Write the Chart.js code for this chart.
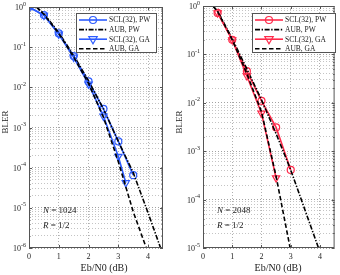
<!DOCTYPE html>
<html>
<head>
<meta charset="utf-8">
<script src="https://cdn.jsdelivr.net/npm/chart.js@4.4.1/dist/chart.umd.min.js"></script>
<style>
body { margin: 0; background: #fff; }
canvas { position: absolute; top: 0; }
#left { left: 0; }
#right { left: 170px; }
</style>
</head>
<body>
<canvas id="left" width="170" height="275"></canvas>
<canvas id="right" width="170" height="275"></canvas>
<script>
// x ticks (Eb/N0 in dB)
var xTicks = [0, 1, 2, 3, 4];

// N = 1024
var sclPwX1024 = [0, 0.5, 1, 1.5, 2, 2.5, 3, 3.5];
var sclPw1024 = [1.0, 0.63, 0.22, 0.06, 0.014, 2.9e-3, 4.5e-4, 6.5e-5];
var sclGaX1024 = [0, 0.5, 1, 1.5, 2, 2.5, 3, 3.25];
var sclGa1024 = [1.0, 0.62, 0.21, 0.056, 0.012, 1.9e-3, 1.9e-4, 4.2e-5];
var aubPwX1024 = [0.25, 0.5, 1, 1.5, 2, 2.5, 3, 3.5, 4, 4.42];
var aubPw1024 = [1.0, 0.68, 0.23, 0.062, 0.0145, 2.9e-3, 4.5e-4, 7.5e-5, 7.4e-6, 1e-6];
var aubGaX1024 = [0.25, 0.5, 1, 1.5, 2, 2.5, 3, 3.5, 3.94];
var aubGa1024 = [1.0, 0.66, 0.22, 0.057, 0.0125, 1.8e-3, 1.4e-4, 8e-6, 1e-6];

// N = 2048
var sclPwX2048 = [0.5, 1, 1.5, 2, 2.5, 3];
var sclPw2048 = [0.72, 0.2, 0.045, 0.011, 3.1e-3, 4.1e-4];
var sclGaX2048 = [0.5, 1, 1.5, 2, 2.5];
var sclGa2048 = [0.72, 0.2, 0.036, 6.1e-3, 2.8e-4];
var aubPwX2048 = [0.34, 0.5, 1, 1.5, 2, 2.5, 3, 3.5, 3.95];
var aubPw2048 = [1.0, 0.78, 0.21, 0.05, 0.0115, 2.3e-3, 4.1e-4, 5.8e-5, 1e-5];
var aubGaX2048 = [0.34, 0.5, 1, 1.5, 2, 2.5, 2.98];
var aubGa2048 = [1.0, 0.77, 0.2, 0.04, 6.5e-3, 3.0e-4, 1e-5];

var legendLabels = ['SCL(32), PW', 'AUB, PW', 'SCL(32), GA', 'AUB, GA'];

var serif = '"Liberation Serif", "Times New Roman", serif';

function pts(xs, ys) {
  return xs.map(function (x, i) { return { x: x, y: ys[i] }; });
}

function logTicks(minExp) {
  var t = [];
  for (var e = minExp; e < 0; e++) {
    for (var m = 1; m < 10; m++) t.push({ value: m * Math.pow(10, e) });
  }
  t.push({ value: 1 });
  return t;
}

function isMajor(v) {
  var l = Math.log10(v);
  return Math.abs(l - Math.round(l)) < 1e-6;
}

// frame, tick marks, labels, legend and text
var panelPlugin = {
  id: 'panel',
  afterDraw: function (chart, args, o) {
    var ctx = chart.ctx, a = chart.chartArea;
    var xs = chart.scales.x, ys = chart.scales.y;
    ctx.save();

    // box
    ctx.strokeStyle = '#555';
    ctx.lineWidth = 1;
    ctx.strokeRect(a.left + 0.5, a.top + 0.5, a.right - a.left - 1, a.bottom - a.top - 1);

    // tick marks
    ctx.beginPath();
    xTicks.forEach(function (v) {
      var px = Math.round(xs.getPixelForValue(v)) + 0.5;
      ctx.moveTo(px, a.bottom); ctx.lineTo(px, a.bottom - 3);
      ctx.moveTo(px, a.top); ctx.lineTo(px, a.top + 3);
    });
    ys.ticks.forEach(function (t) {
      var py = Math.round(ys.getPixelForValue(t.value)) + 0.5;
      var len = isMajor(t.value) ? 3 : 1.5;
      ctx.moveTo(a.left, py); ctx.lineTo(a.left + len, py);
      ctx.moveTo(a.right, py); ctx.lineTo(a.right - len, py);
    });
    ctx.stroke();

    ctx.fillStyle = '#222';
    // x tick labels
    ctx.font = '8px ' + serif;
    ctx.textAlign = 'center';
    ctx.textBaseline = 'middle';
    xTicks.forEach(function (v) {
      ctx.fillText(String(v), xs.getPixelForValue(v), 257);
    });

    // y tick labels 10^e
    ys.ticks.forEach(function (t) {
      if (!isMajor(t.value)) return;
      var e = Math.round(Math.log10(t.value));
      var py = ys.getPixelForValue(t.value);
      var right = a.left - 3;
      ctx.font = '6px ' + serif;
      ctx.textAlign = 'right';
      var ew = ctx.measureText(String(e)).width;
      ctx.fillText(String(e), right, py - 3);
      ctx.font = '8px ' + serif;
      ctx.fillText('10', right - ew, py + 1);
    });

    // axis titles
    ctx.font = '10px ' + serif;
    ctx.textAlign = 'center';
    ctx.fillText('Eb/N0 (dB)', o.xTitleX, 268);
    ctx.font = '9px ' + serif;
    ctx.save();
    ctx.translate(o.yTitleX, 122);
    ctx.rotate(-Math.PI / 2);
    ctx.fillText('BLER', 0, 0);
    ctx.restore();

    // N, R text
    ctx.textAlign = 'left';
    ctx.font = 'italic 9px ' + serif;
    ctx.fillText('N', o.noteX, 211);
    var nw = ctx.measureText('N').width;
    ctx.fillText('R', o.noteX, 225.5);
    var rw = ctx.measureText('R').width;
    ctx.font = '9px ' + serif;
    ctx.fillText(' = ' + o.n, o.noteX + nw, 211);
    ctx.fillText(' = 1/2', o.noteX + rw, 225.5);

    // legend
    var L = o.legendLeft, T = 13, W = o.legendW, H = 40;
    ctx.fillStyle = '#fff';
    ctx.fillRect(L, T, W, H);
    ctx.strokeStyle = '#555';
    ctx.lineWidth = 1;
    ctx.strokeRect(L + 0.5, T + 0.5, W - 1, H - 1);
    ctx.font = '7.5px ' + serif;
    ctx.textBaseline = 'middle';
    chart.data.datasets.forEach(function (ds, i) {
      var y = T + 7 + i * 9.6;
      ctx.strokeStyle = ds.borderColor;
      ctx.lineWidth = ds.borderWidth;
      ctx.setLineDash(ds.borderDash || []);
      ctx.beginPath();
      ctx.moveTo(L + 3, y); ctx.lineTo(L + 31, y);
      ctx.stroke();
      ctx.setLineDash([]);
      if (ds.pointRadius > 0) {
        ctx.lineWidth = ds.pointBorderWidth;
        ctx.beginPath();
        var cx = L + 17;
        if (ds.pointStyle === 'circle') {
          ctx.arc(cx, y, ds.pointRadius, 0, Math.PI * 2);
        } else {
          var r = ds.pointRadius;
          ctx.moveTo(cx - r, y - r * 0.6);
          ctx.lineTo(cx + r, y - r * 0.6);
          ctx.lineTo(cx, y + r * 1.1);
          ctx.closePath();
        }
        ctx.stroke();
      }
      ctx.fillStyle = '#222';
      ctx.fillText(legendLabels[i], L + 33, y + 0.5);
    });
    ctx.restore();
  }
};

function makePanel(id, color, sets, minExp, pad, yWidth, opts) {
  var lineW = 1.6;
  var datasets = [
    { data: pts(sets[0], sets[1]), borderColor: color, borderWidth: lineW,
      pointStyle: 'circle', pointRadius: 3.5, pointBorderWidth: 1.2,
      pointBorderColor: color, pointBackgroundColor: 'rgba(0,0,0,0)', order: 4 },
    { data: pts(sets[2], sets[3]), borderColor: '#000', borderWidth: lineW,
      borderDash: [5, 1.6, 1.4, 1.6], pointRadius: 0, order: 3 },
    { data: pts(sets[4], sets[5]), borderColor: color, borderWidth: lineW,
      pointStyle: 'triangle', pointRotation: 180, pointRadius: 4.2, pointBorderWidth: 1.2,
      pointBorderColor: color, pointBackgroundColor: 'rgba(0,0,0,0)', order: 2 },
    { data: pts(sets[6], sets[7]), borderColor: '#000', borderWidth: lineW,
      borderDash: [4.5, 2.5], pointRadius: 0, order: 1 }
  ];
  datasets.forEach(function (d, i) { d.label = legendLabels[i]; d.fill = false; d.tension = 0; });

  return new Chart(document.getElementById(id), {
    type: 'line',
    data: { datasets: datasets },
    options: {
      responsive: false,
      animation: false,
      layout: { padding: pad },
      plugins: { legend: { display: false }, tooltip: { enabled: false }, panel: opts },
      scales: {
        x: {
          type: 'linear', min: 0, max: 4.5,
          afterBuildTicks: function (s) { s.ticks = xTicks.map(function (v) { return { value: v }; }); },
          afterFit: function (s) { s.height = 27; },
          ticks: { display: false },
          grid: { color: '#9a9a9a', lineWidth: 0.8, drawTicks: false },
          border: { display: false, dash: [1, 2] }
        },
        y: {
          type: 'logarithmic', min: Math.pow(10, minExp), max: 1,
          afterBuildTicks: function (s) { s.ticks = logTicks(minExp); },
          afterFit: function (s) { s.width = yWidth; },
          ticks: { display: false },
          grid: {
            drawTicks: false, lineWidth: 0.8,
            color: function (c) { return c.tick && isMajor(c.tick.value) ? '#8a8a8a' : '#b5b5b5'; }
          },
          border: { display: false, dash: [1, 2] }
        }
      }
    },
    plugins: [panelPlugin]
  });
}

makePanel('left', '#2d5cff',
  [sclPwX1024, sclPw1024, aubPwX1024, aubPw1024, sclGaX1024, sclGa1024, aubGaX1024, aubGa1024],
  -6, { top: 7, right: 7, left: 0, bottom: 0 }, 29,
  { xTitleX: 104, yTitleX: 6, noteX: 43, n: '1024', legendLeft: 76, legendW: 81 });

makePanel('right', '#ff2a4a',
  [sclPwX2048, sclPw2048, aubPwX2048, aubPw2048, sclGaX2048, sclGa2048, aubGaX2048, aubGa2048],
  -5, { top: 6, right: 3, left: 0, bottom: 0 }, 33,
  { xTitleX: 108, yTitleX: 10, noteX: 47, n: '2048', legendLeft: 82, legendW: 84 });
</script>
</body>
</html>
